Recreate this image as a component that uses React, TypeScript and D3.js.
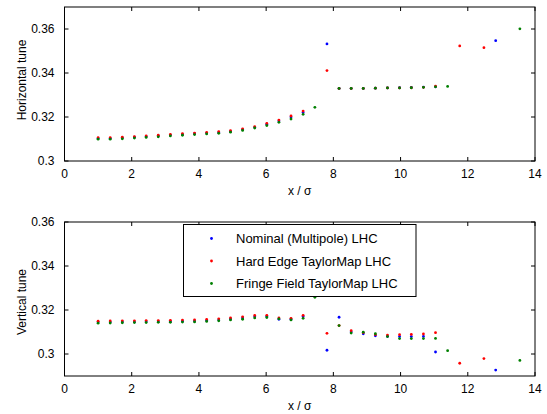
import React from "react";
import * as d3 from "d3";

const xValues = [1.00, 1.36, 1.72, 2.08, 2.43, 2.79, 3.15, 3.51, 3.87, 4.23, 4.59, 4.94, 5.30, 5.66, 6.02, 6.38, 6.74, 7.10, 7.45, 7.81, 8.17, 8.53, 8.89, 9.25, 9.61, 9.97, 10.32, 10.68, 11.04, 11.40, 11.76, 12.12, 12.48, 12.83, 13.19, 13.55];

type V = number | null;

// Horizontal tune
const hNominal: V[] = [0.3103, 0.3103, 0.3105, 0.3108, 0.3111, 0.3114, 0.3118, 0.3121, 0.3124, 0.3127, 0.3130, 0.3135, 0.3143, 0.3153, 0.3167, 0.3182, 0.3200, 0.3221, null, 0.3532, 0.3330, 0.3330, 0.3330, 0.3331, 0.3332, 0.3333, 0.3334, 0.3336, 0.3337, null, null, null, null, 0.3547, null, null];
const hHardEdge: V[] = [0.3106, 0.3106, 0.3108, 0.3111, 0.3114, 0.3117, 0.3121, 0.3124, 0.3127, 0.3130, 0.3133, 0.3138, 0.3146, 0.3156, 0.3171, 0.3186, 0.3205, 0.3227, null, 0.3411, 0.3330, 0.3330, 0.3330, 0.3331, 0.3332, 0.3332, 0.3333, 0.3335, 0.3340, null, 0.3523, null, 0.3515, null, null, null];
const hFringe: V[] = [0.3099, 0.3099, 0.3101, 0.3104, 0.3107, 0.3110, 0.3114, 0.3117, 0.3120, 0.3123, 0.3126, 0.3131, 0.3139, 0.3150, 0.3161, 0.3176, 0.3191, 0.3212, 0.3244, null, 0.3330, 0.3330, 0.3330, 0.3331, 0.3332, 0.3332, 0.3333, 0.3335, 0.3337, 0.3339, null, null, null, null, null, 0.3601];

// Vertical tune
const vNominal: V[] = [0.3145, 0.3145, 0.3146, 0.3146, 0.3147, 0.3147, 0.3148, 0.3149, 0.3150, 0.3152, 0.3155, 0.3159, 0.3164, 0.3170, 0.3171, 0.3158, 0.3158, 0.3170, null, 0.3017, 0.3167, 0.3100, 0.3092, 0.3083, 0.3080, 0.3079, 0.3079, 0.3080, 0.3009, null, null, null, null, 0.2927, null, null];
const vHardEdge: V[] = [0.3149, 0.3150, 0.3151, 0.3151, 0.3152, 0.3152, 0.3153, 0.3154, 0.3155, 0.3157, 0.3160, 0.3164, 0.3169, 0.3175, 0.3176, 0.3164, 0.3162, 0.3176, null, 0.3094, 0.3129, 0.3106, 0.3097, 0.3088, 0.3086, 0.3088, 0.3089, 0.3091, 0.3097, null, 0.2958, null, 0.2979, null, null, null];
const vFringe: V[] = [0.3140, 0.3141, 0.3142, 0.3143, 0.3143, 0.3144, 0.3144, 0.3145, 0.3146, 0.3148, 0.3151, 0.3155, 0.3158, 0.3164, 0.3166, 0.3160, 0.3155, 0.3162, 0.3258, null, 0.3129, 0.3095, 0.3099, 0.3092, 0.3079, 0.3070, 0.3070, 0.3070, 0.3071, 0.3015, null, null, null, null, null, 0.2971];

const seriesNames = ["Nominal (Multipole) LHC", "Hard Edge TaylorMap LHC", "Fringe Field TaylorMap LHC"];
const seriesColors = ["#0000ff", "#ff0000", "#008000"];

const xTicks = [0, 2, 4, 6, 8, 10, 12, 14];
const yTicks = [0.3, 0.32, 0.34, 0.36];

const FONT = "'Liberation Sans', Arial, Helvetica, sans-serif";

const x = d3.scaleLinear().domain([0, 14]).range([64.5, 535]);

function Panel({ y, series, label, labelCenter }: { y: d3.ScaleLinear<number, number>; series: V[][]; label: string; labelCenter: number }) {
  const [y0, y1] = y.range();
  const top = y1;
  const bottom = y0;
  const left = x.range()[0];
  const right = x.range()[1];
  const tl = 4;
  return (
    <g>
      {series.map((s, si) => (
        <g key={si} fill={seriesColors[si]}>
          {s.map((v, i) => (v == null ? null : <circle key={i} cx={x(xValues[i])} cy={y(v)} r={1.4} />))}
        </g>
      ))}
      <rect x={left} y={top} width={right - left} height={bottom - top} fill="none" stroke="#000" strokeWidth={1} />
      {xTicks.map((t) => (
        <g key={"x" + t}>
          <line x1={x(t)} x2={x(t)} y1={bottom} y2={bottom - tl} stroke="#000" />
          <line x1={x(t)} x2={x(t)} y1={top} y2={top + tl} stroke="#000" />
          <text x={x(t)} y={bottom + 17} textAnchor="middle" fontSize={12} fontFamily={FONT} fill="#000">{t}</text>
        </g>
      ))}
      {yTicks.map((t) => (
        <g key={"y" + t}>
          <line x1={left} x2={left + tl} y1={y(t)} y2={y(t)} stroke="#000" />
          <line x1={right} x2={right - tl} y1={y(t)} y2={y(t)} stroke="#000" />
          <text x={left - 10} y={y(t)} dy="0.35em" textAnchor="end" fontSize={12} fontFamily={FONT} fill="#000">{String(t)}</text>
        </g>
      ))}
      <text transform={`translate(26,${labelCenter}) rotate(-90)`} textAnchor="middle" fontSize={12} fontFamily={FONT} fill="#000">{label}</text>
      <text x={(left + right) / 2} y={bottom + 34} textAnchor="middle" fontSize={12} fontFamily={FONT} fill="#000">x / σ</text>
    </g>
  );
}

export default function App() {
  const yTop = d3.scaleLinear().domain([0.3, 0.37]).range([161, 7]);
  const yBot = d3.scaleLinear().domain([0.29, 0.36]).range([376, 222]);
  const legendRows = [238.5, 261, 283.5];
  return (
    <svg width={547} height={414} style={{ position: "absolute", left: 0, top: 0, background: "#fff" }}>
      <rect width={547} height={414} fill="#fff" />
      <Panel y={yTop} series={[hNominal, hHardEdge, hFringe]} label="Horizontal tune" labelCenter={80} />
      <Panel y={yBot} series={[vNominal, vHardEdge, vFringe]} label="Vertical tune" labelCenter={302} />
      <g>
        <rect x={183.5} y={224.5} width={232.5} height={72} fill="#fff" stroke="#000" strokeWidth={1} />
        {seriesNames.map((n, i) => (
          <g key={n}>
            <circle cx={211.5} cy={legendRows[i]} r={1.4} fill={seriesColors[i]} />
            <text x={236} y={legendRows[i]} dy="0.35em" fontSize={13} fontFamily={FONT} fill="#000">{n}</text>
          </g>
        ))}
      </g>
    </svg>
  );
}
